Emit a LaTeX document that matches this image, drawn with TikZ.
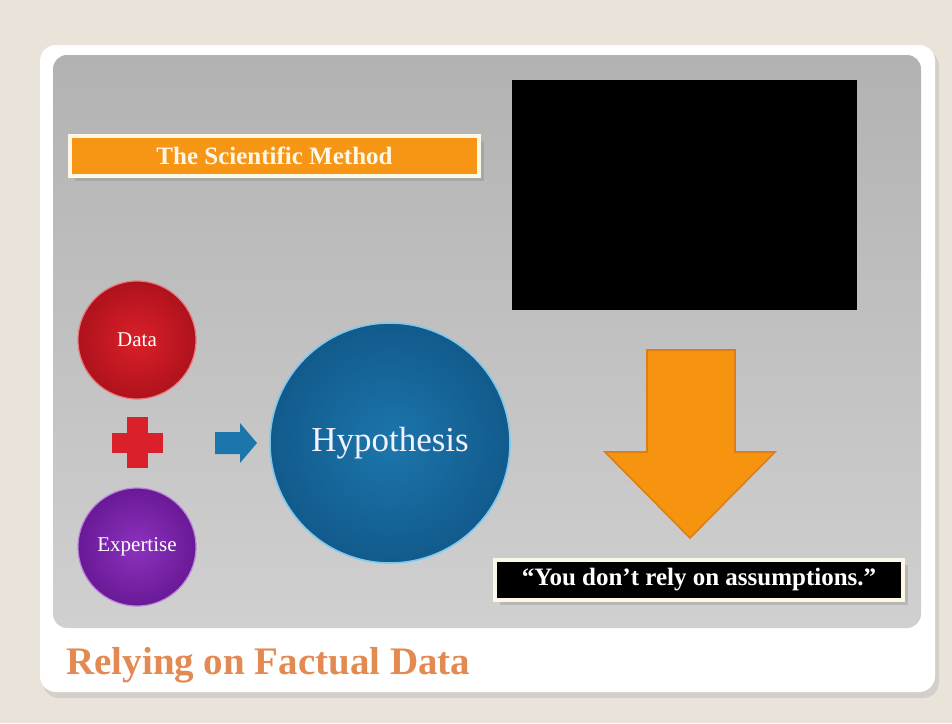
\documentclass[tikz,border=0pt]{standalone}
\usepackage{fontspec}
\setmainfont{Liberation Serif}
\usetikzlibrary{shadows}
\definecolor{slidebg}{RGB}{233,227,218}
\definecolor{panelgray}{RGB}{178,178,178}
\definecolor{panellight}{RGB}{208,208,208}
\definecolor{bannerorange}{RGB}{247,150,20}
\definecolor{bannercream}{RGB}{253,247,232}
\definecolor{arroworange}{RGB}{247,148,15}
\definecolor{arrowedge}{RGB}{222,125,20}
\definecolor{datared}{RGB}{218,32,42}
\definecolor{datadark}{RGB}{175,18,28}
\definecolor{expertpurple}{RGB}{140,50,190}
\definecolor{expertdark}{RGB}{105,25,150}
\definecolor{hypoblue}{RGB}{28,118,172}
\definecolor{hypodark}{RGB}{18,90,140}
\definecolor{hyporim}{RGB}{125,200,235}
\definecolor{footerorange}{RGB}{226,138,82}
\tikzset{
  ball/.style={circle, text=white, font=\fontsize{10.5}{12}\selectfont},
  tag/.style={draw=bannercream, line width=2pt, inner sep=0pt,
    drop shadow={opacity=0.3}, font=\bfseries\fontsize{12.5}{14}\selectfont}
}
\begin{document}
\begin{tikzpicture}[x=0.5pt,y=-0.5pt]
  \useasboundingbox (0,0) rectangle (952,723);
  % Fundal
  \fill[slidebg] (0,0) rectangle (952,723);
  % Cardul alb
  \fill[black!25, opacity=0.5, rounded corners=8pt] (43,50) rectangle (939,698);
  \fill[white, rounded corners=8pt] (40,45) rectangle (935,692);
  % Panoul gri
  \shade[top color=panelgray, bottom color=panellight, rounded corners=7pt]
    (53,55) rectangle (921,628);
  % Ecranul negru
  \fill[black] (512,80) rectangle (857,310);
  % Titlul
  \node[tag, fill=bannerorange, text=bannercream, minimum width=204.5pt,
    minimum height=20pt] (title) at (274.5,156) {The Scientific Method};
  % Cercurile
  \node[ball, minimum size=59pt, inner color=datared, outer color=datadark,
    draw=datared!60!white, line width=0.6pt] (data) at (137,340) {Data};
  \node[ball, minimum size=59pt, inner color=expertpurple, outer color=expertdark,
    draw=expertpurple!60!white, line width=0.6pt] (expertise) at (137,547) {Expertise};
  \node[ball, minimum size=120pt, inner color=hypoblue, outer color=hypodark,
    draw=hyporim, line width=0.8pt, text=blue!5!white,
    font=\fontsize{17.5}{20}\selectfont] (hypothesis) at (390,443) {Hypothesis};
  % Plusul
  \fill[datared] (112,433) rectangle (163,453);
  \fill[datared] (127,417) rectangle (148,468);
  % Sageata albastra
  \fill[hypoblue] (215,432) -- (240,432) -- (240,423) -- (257,443)
    -- (240,463) -- (240,454) -- (215,454) -- cycle;
  % Sageata portocalie
  \filldraw[fill=arroworange, draw=arrowedge, line width=0.8pt]
    (647,350) -- (735,350) -- (735,452) -- (775,452) -- (690,538)
    -- (605,452) -- (647,452) -- cycle;
  % Citatul
  \node[tag, fill=black, text=white, minimum width=204pt,
    minimum height=20pt] (quote) at (699,580)
    {“You don’t rely on assumptions.”};
  % Subsolul
  \node[anchor=base west, inner sep=0pt, text=footerorange,
    font=\bfseries\fontsize{19.5}{22}\selectfont] (footer) at (66,674)
    {Relying on Factual Data};
\end{tikzpicture}
\end{document}
